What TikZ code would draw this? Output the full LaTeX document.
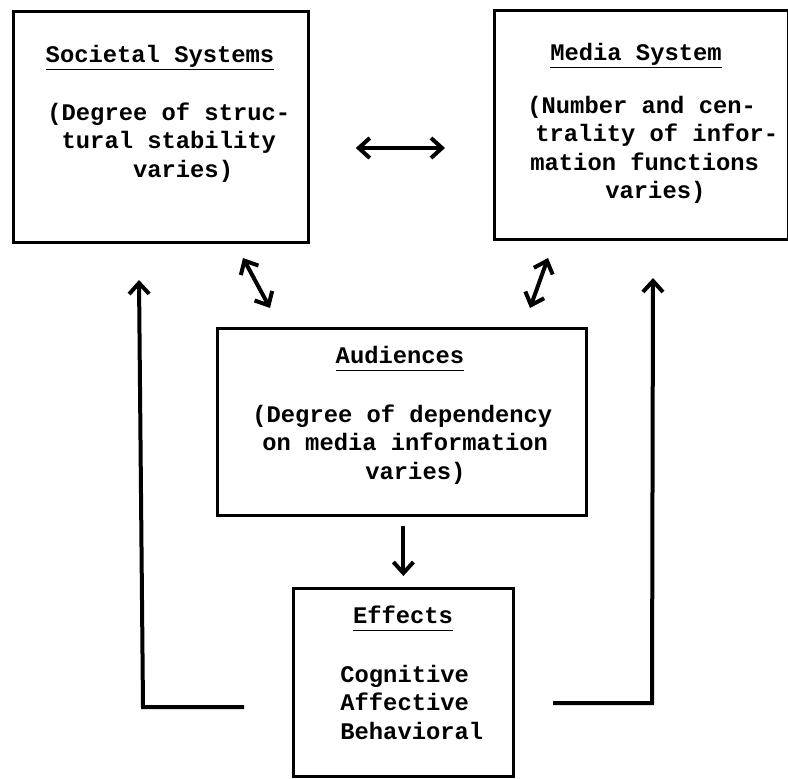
\documentclass[tikz,border=0pt]{standalone}
\usepackage{fontspec}
\setmonofont{Liberation Mono}
\usetikzlibrary{positioning}
\usetikzlibrary{arrows.meta}
\tikzset{
    mybox/.style = {rectangle, draw=black, line width=1.4pt, inner sep=0pt, anchor=north west},
    mytitle/.style = {anchor=base, inner sep=0pt, font=\ttfamily\bfseries\fontsize{11.9}{14.25}\selectfont},
    mytext/.style = {anchor=base west, inner sep=0pt, align=left, font=\ttfamily\bfseries\fontsize{11.9}{14.25}\selectfont},
    edgen/.style = {-{Straight Barb[length=5.5pt,width=10pt]}, line width=2pt}, % one way
    edged/.style = {{Straight Barb[length=5.5pt,width=10pt]}-{Straight Barb[length=5.5pt,width=10pt]}, line width=2pt}, % both ways
}
\newcommand{\Ul}[1]{\underline{\vphantom{y}#1}}

\begin{document}
\begin{tikzpicture}[x=0.5pt,y=-0.5pt]
\useasboundingbox (0,0) rectangle (788,778);
\node[mybox, minimum width=147.5pt, minimum height=115.5pt] at (12,10) (soc) {};
\node[mybox, minimum width=147pt, minimum height=114.5pt] at (493,9) (med) {};
\node[mybox, minimum width=184.5pt, minimum height=93.5pt] at (216,327) (aud) {};
\node[mybox, minimum width=110pt, minimum height=94pt] at (292,587) (eff) {};
%
% body nodes sit on the baseline of their last line
\node[mytitle] at (160,62) (socT) {\Ul{Societal Systems}};
\node[mytext] at (47,177) (socB) {(Degree of struc-\\\ tural stability\\\ \ \ \ \ \ varies)};
\node[mytitle] at (636,60) (medT) {\Ul{Media System}};
\node[mytext] at (527,198.5) (medB) {(Number and cen-\\\hspace*{4pt}trality of infor-\\\hspace*{1.5pt}mation functions\\\hspace*{39pt}varies)};
\node[mytitle] at (400,363) (audT) {\Ul{Audiences}};
\node[mytext] at (252,479) (audB) {(Degree of dependency\\\hspace*{5pt}on media information\\\hspace*{56.5pt}varies)};
\node[mytitle] at (403,623) (effT) {\Ul{Effects}};
\node[mytext] at (340,739) (effB) {Cognitive\\Affective\\Behavioral};
%
\coordinate (mid) at (400,148);
\coordinate (socA) at (243,258);
\coordinate (audA) at (270,308);
\coordinate (medA) at (548,258);
\coordinate (audB2) at (530,308);
\coordinate (fbL0) at (244,707);
\coordinate (fbL1) at (143,707);
\coordinate (fbL2) at (139,280);
\coordinate (fbR0) at (553,703);
\coordinate (fbR1) at (652,703);
\coordinate (fbR2) at (653,278);
%
\draw[edged, shorten <=23pt, shorten >=24pt] (soc.east |- mid) -- (med.west |- mid);
\draw[edged] (socA) -- (audA);
\draw[edged] (medA) -- (audB2);
\draw[edgen, shorten <=4.5pt, shorten >=5.5pt] (aud.south -| eff.north) -- (eff.north);
\draw[edgen] (fbL0) -- (fbL1) -- (fbL2);
\draw[edgen] (fbR0) -- (fbR1) -- (fbR2);
\end{tikzpicture}
\end{document}
